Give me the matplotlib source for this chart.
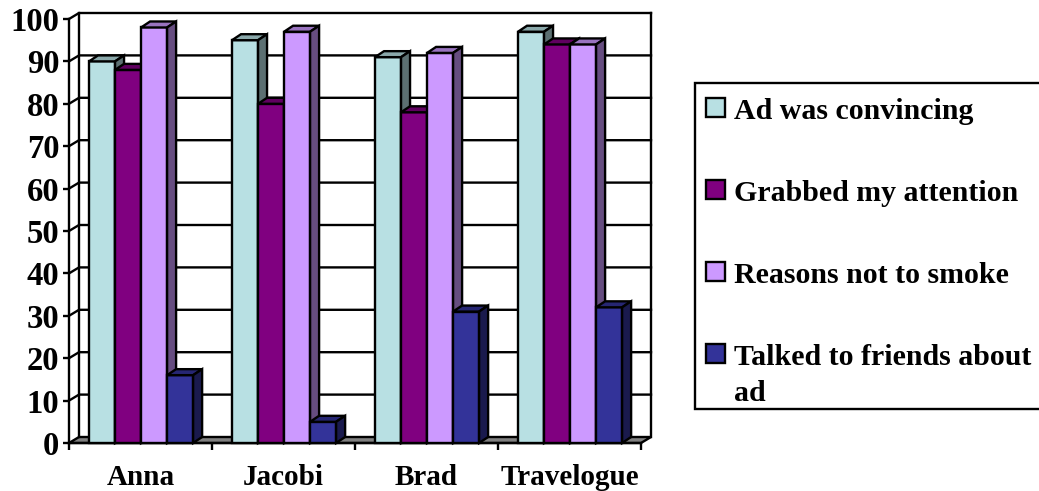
import numpy as np
import matplotlib
matplotlib.use('Agg')
import matplotlib.pyplot as plt
from matplotlib.colors import to_rgb
from matplotlib.patches import Rectangle

plt.rcParams['font.family'] = ['Liberation Serif', 'DejaVu Serif']
plt.rcParams['font.weight'] = 'bold'

W, H = 1039, 491

categories = ['Anna', 'Jacobi', 'Brad', 'Travelogue']
convincing = [90, 95, 91, 97]
attention = [88, 80, 78, 94]
reasons = [98, 97, 92, 94]
talked = [16, 5, 31, 32]

series_names = ['Ad was convincing', 'Grabbed my attention', 'Reasons not to smoke', 'Talked to friends about\nad']
series_values = [convincing, attention, reasons, talked]
colors = ['#B8E0E3', '#800080', '#CC99FF', '#333399']

BAR_W = 0.182
GROUP_START = 0.14
LW = 1.7
# 3d look: depth of the chart box and of the bars, in data units
WALL_DX, WALL_DY = 10 / 143, 6 / 4.24
BAR_DX, BAR_DY = 9 / 143, 6 / 4.24


def shade(color, factor):
    return tuple(c * factor for c in to_rgb(color))


def draw_bar(ax, x, value, color):
    ax.bar(x, value, BAR_W, align='edge', color=color, edgecolor='black', lw=LW, clip_on=False, zorder=3)
    top_x = [x, x + BAR_DX, x + BAR_W + BAR_DX, x + BAR_W]
    top_y = [value, value + BAR_DY, value + BAR_DY, value]
    ax.fill(top_x, top_y, fc=shade(color, 0.75), ec='black', lw=LW, clip_on=False, zorder=3)
    side_x = [x + BAR_W, x + BAR_W + BAR_DX, x + BAR_W + BAR_DX, x + BAR_W]
    side_y = [0, BAR_DY, value + BAR_DY, value]
    ax.fill(side_x, side_y, fc=shade(color, 0.5), ec='black', lw=LW, clip_on=False, zorder=3)


fig = plt.figure(figsize=(W / 100, H / 100), dpi=100)
ax = fig.add_axes([69 / W, (H - 443) / H, 572 / W, 424 / H])
ax.set_xlim(0, len(categories))
ax.set_ylim(0, 100)

# floor and walls
n = len(categories)
ax.fill([0, WALL_DX, n + WALL_DX, n], [0, WALL_DY, WALL_DY, 0], fc='#808080', ec='black', lw=LW, clip_on=False, zorder=1)
for tick in np.arange(10, 101, 10):
    ax.plot([0, WALL_DX, n + WALL_DX], [tick, tick + WALL_DY, tick + WALL_DY], color='black', lw=LW, clip_on=False, zorder=1)
ax.plot([WALL_DX, WALL_DX], [WALL_DY, 100 + WALL_DY], color='black', lw=LW, clip_on=False, zorder=1)
ax.plot([n + WALL_DX, n + WALL_DX], [WALL_DY, 100 + WALL_DY], color='black', lw=LW, clip_on=False, zorder=1)

for i in range(n):
    for j, values in enumerate(series_values):
        draw_bar(ax, i + GROUP_START + j * BAR_W, values[i], colors[j])

for side in ['top', 'right']:
    ax.spines[side].set_visible(False)
for side in ['left', 'bottom']:
    ax.spines[side].set_linewidth(LW)
ax.patch.set_visible(False)

ax.set_yticks(np.arange(0, 101, 10))
ax.tick_params(axis='y', labelsize=23.5, length=4, width=LW, pad=3)
ax.set_xticks(np.arange(n + 1))
ax.set_xticklabels([])
ax.tick_params(axis='x', length=5, width=LW)
ax.set_xticks(np.arange(n) + 0.5, labels=categories, minor=True)
ax.tick_params(axis='x', which='minor', length=0, labelsize=21, pad=15)

# legend box, in pixel coordinates
lax = fig.add_axes([0, 0, 1, 1])
lax.set_xlim(0, W)
lax.set_ylim(H, 0)
lax.axis('off')
lax.add_patch(Rectangle((695, 83), W, 326, fc='white', ec='black', lw=LW))
for row, (name, color) in enumerate(zip(series_names, colors)):
    y = 110 + row * 82
    lax.add_patch(Rectangle((706, y - 12), 19, 19, fc=color, ec='black', lw=LW))
    for k, line in enumerate(name.split('\n')):
        lax.text(734, y + 9 + k * 36, line, fontsize=21.5, fontweight='bold', va='baseline', ha='left')

fig.savefig('out.png', dpi=100)
